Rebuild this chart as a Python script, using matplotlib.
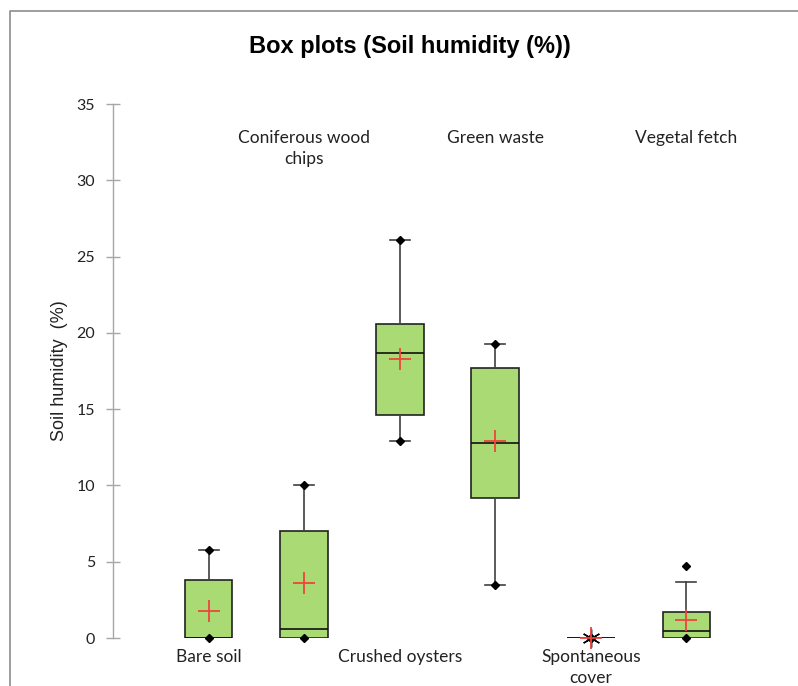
import matplotlib.pyplot as plt
from matplotlib.lines import Line2D
from matplotlib.transforms import blended_transform_factory
import numpy as np

# values
categories = ['Bare soil', 'Coniferous wood\nchips', 'Crushed oysters',
              'Green waste', 'Spontaneous\ncover', 'Vegetal fetch']
q1 = [0.0, 0.0, 14.6, 9.2, 0.0, 0.0]
median = [0.0, 0.6, 18.7, 12.8, 0.0, 0.45]
q3 = [3.8, 7.0, 20.6, 17.7, 0.0, 1.7]
whis_lo = [0.0, 0.0, 12.9, 3.5, 0.0, 0.0]
whis_hi = [5.8, 10.0, 26.1, 19.3, 0.0, 3.7]
means = [1.75, 3.6, 18.3, 12.9, 0.0, 1.15]
data_min = [0.0, 0.0, 12.9, 3.5, 0.0, 0.0]
data_max = [5.8, 10.0, 26.1, 19.3, 0.0, 4.7]
label_top = [False, True, False, True, False, True]
yticks = [0, 5, 10, 15, 20, 25, 30, 35]

green = '#A9DA74'
red = '#F0443A'
gray = '#A6A6A6'
label_font = ['Lato', 'DejaVu Sans']

fig = plt.figure(figsize=(7.98, 6.86), dpi=100)
ax = fig.add_axes([113 / 798, 1 - 638 / 686, 669 / 798, 534 / 686])

positions = np.arange(1, len(categories) + 1)
stats = []
for i in range(len(categories)):
    stats.append({'q1': q1[i], 'med': median[i], 'q3': q3[i],
                  'whislo': whis_lo[i], 'whishi': whis_hi[i], 'fliers': []})

ax.bxp(stats, positions=positions, widths=0.5, capwidths=0.21,
       patch_artist=True, showfliers=False,
       boxprops=dict(facecolor=green, edgecolor='#222222', linewidth=1.2),
       medianprops=dict(color='#111111', linewidth=1.2),
       whiskerprops=dict(color='#404040', linewidth=1.2),
       capprops=dict(color='#404040', linewidth=1.2))

# min / max points
ax.plot(positions, data_min, 'D', color='black', markersize=4.5, clip_on=False, zorder=4)
ax.plot(positions, data_max, 'D', color='black', markersize=4.5, clip_on=False, zorder=4)
# spontaneous cover: all values equal -> asterisk
flat = [i for i in range(len(categories)) if q1[i] == q3[i]]
ax.plot(positions[flat], [means[i] for i in flat], marker=(6, 2, 0), linestyle='none',
        color='black', markersize=13, markeredgewidth=1.0, clip_on=False, zorder=4)
# means
ax.plot(positions, means, '+', color=red, markersize=16, markeredgewidth=1.3,
        clip_on=False, zorder=5)

ax.set_xlim(0, 7)
ax.set_ylim(0, 35)
ax.set_xticks([])
ax.set_yticks(yticks)
ax.tick_params(axis='y', direction='inout', length=10, width=1, color=gray,
               pad=8, labelsize=11.5, labelcolor='#222222')
for lab in ax.get_yticklabels():
    lab.set_family(label_font)
for side in ['top', 'right', 'bottom']:
    ax.spines[side].set_visible(False)
ax.spines['left'].set_color(gray)
ax.spines['left'].set_linewidth(1)
ax.set_ylabel('Soil humidity  (%)', fontsize=13, family='Liberation Sans',
              color='#222222', labelpad=6)

trans = blended_transform_factory(ax.transData, ax.transAxes)
for pos, name, top in zip(positions, categories, label_top):
    y = 0.951 if top else -0.020
    ax.text(pos, y, name, transform=trans, ha='center', va='top',
            fontsize=12.5, family=label_font, color='#222222',
            linespacing=1.4, clip_on=False)

fig.text(0.514, 1 - 47 / 686, 'Box plots (Soil humidity (%))', ha='center',
         va='center', fontsize=17, fontweight='bold', family='Liberation Sans')

# frame around the chart (left and top edges visible)
fx = 10 / 798
fy = 1 - 11 / 686
fig.add_artist(Line2D([fx, fx, 1.0], [0.0, fy, fy], transform=fig.transFigure,
                      color='#8C8C8C', linewidth=1.2))

fig.savefig('out.png', dpi=100)
